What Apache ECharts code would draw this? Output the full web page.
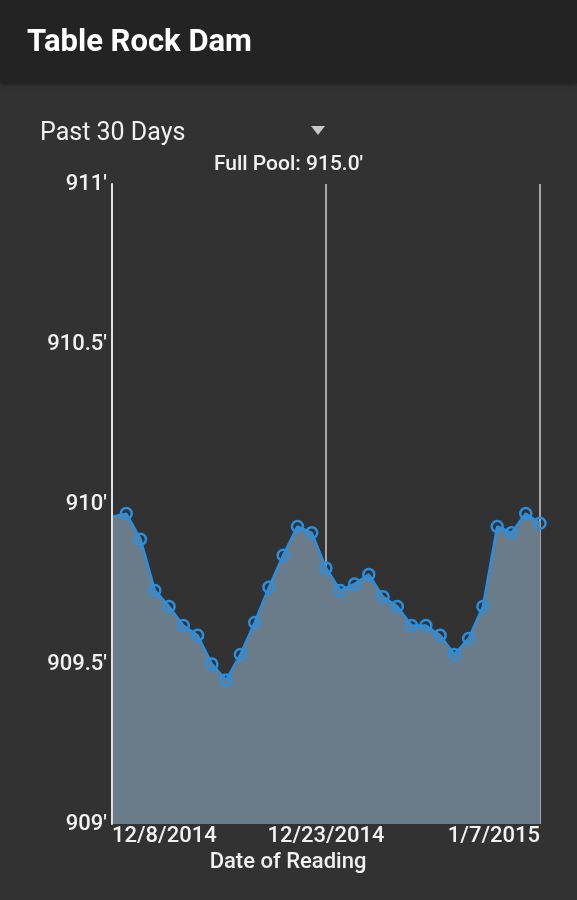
<!DOCTYPE html>
<html>
<head>
<meta charset="utf-8">
<script src="https://cdn.jsdelivr.net/npm/echarts@6/dist/echarts.min.js"></script>
<style>
  html, body { margin: 0; padding: 0; background: #323232; }
  #chart { width: 577px; height: 900px; }
</style>
</head>
<body>
<div id="chart"></div>
<script>
// daily readings, 12/8/2014 .. 1/7/2015
const dates = [
  '12/8/2014', '12/9/2014', '12/10/2014', '12/11/2014', '12/12/2014', '12/13/2014',
  '12/14/2014', '12/15/2014', '12/16/2014', '12/17/2014', '12/18/2014', '12/19/2014',
  '12/20/2014', '12/21/2014', '12/22/2014', '12/23/2014', '12/24/2014', '12/25/2014',
  '12/26/2014', '12/27/2014', '12/28/2014', '12/29/2014', '12/30/2014', '12/31/2014',
  '1/1/2015', '1/2/2015', '1/3/2015', '1/4/2015', '1/5/2015', '1/6/2015', '1/7/2015'
]
const levels = [
  909.96, 909.97, 909.89, 909.73, 909.68, 909.62, 909.59, 909.50, 909.45, 909.53,
  909.63, 909.74, 909.84, 909.93, 909.91, 909.80, 909.73, 909.75, 909.78, 909.71,
  909.68, 909.62, 909.62, 909.59, 909.53, 909.58, 909.68, 909.93, 909.91, 909.97,
  909.94
]
const yMin = 909
const yMax = 911
const yStep = 0.5
const fullPool = "Full Pool: 915.0'"

const font = 'Roboto, "Noto Sans", sans-serif'

const chart = echarts.init(document.getElementById('chart'))
const option = {
  backgroundColor: '#323232',
  animation: false,
  textStyle: { fontFamily: font },
  graphic: [
    {
      type: 'rect',
      shape: { x: 0, y: 0, width: 577, height: 83 },
      style: { fill: '#232323', shadowBlur: 4, shadowColor: 'rgba(0,0,0,0.5)', shadowOffsetY: 1 },
      z: -1
    },
    {
      type: 'polygon',
      shape: { points: [[311, 126], [325, 126], [318, 135]] },
      style: { fill: '#c8c8c8' }
    }
  ],
  title: [
    {
      text: 'Table Rock Dam',
      left: 27, top: 28, padding: 0,
      textStyle: { color: '#ffffff', fontSize: 31, fontWeight: 'bold', fontFamily: font }
    },
    {
      text: 'Past 30 Days',
      left: 40, top: 121, padding: 0,
      textStyle: { color: '#f2f2f2', fontSize: 25, fontWeight: 'normal', fontFamily: font }
    },
    {
      text: fullPool,
      left: 'center', top: 154, padding: 0,
      textStyle: { color: '#f2f2f2', fontSize: 21, fontWeight: 500, fontFamily: font }
    }
  ],
  grid: { left: 112, right: 37, top: 184, bottom: 76, containLabel: false },
  xAxis: {
    type: 'category',
    data: dates,
    boundaryGap: false,
    z: 3,
    name: 'Date of Reading',
    nameLocation: 'middle',
    nameGap: 25,
    nameTextStyle: { color: '#f2f2f2', fontSize: 22, fontWeight: 500, padding: [0, 76, 0, 0] },
    axisLine: { show: false },
    axisTick: { show: false },
    axisLabel: {
      interval: 14,
      color: '#f2f2f2',
      fontSize: 22,
      fontWeight: 500,
      margin: 1,
      alignMinLabel: 'left',
      alignMaxLabel: 'right'
    },
    splitLine: {
      show: true,
      interval: (i) => i % 15 === 0,
      lineStyle: { color: 'rgba(205,205,205,0.75)', width: 2 }
    }
  },
  yAxis: {
    type: 'value',
    min: yMin,
    max: yMax,
    interval: yStep,
    z: 4,
    axisLine: { show: true, lineStyle: { color: '#e0e0e0', width: 2 } },
    axisTick: { show: false },
    splitLine: { show: false },
    axisLabel: {
      color: '#f2f2f2',
      fontSize: 22,
      fontWeight: 500,
      margin: 5,
      padding: [6, 0, 0, 0],
      formatter: (v) => v + "'"
    }
  },
  series: [
    {
      type: 'line',
      data: levels.map((v, i) => (i === 0 ? { value: v, symbol: 'none' } : v)),
      symbol: 'circle',
      symbolSize: 11,
      showAllSymbol: true,
      itemStyle: { color: 'rgba(0,0,0,0)', borderColor: '#2b8fe0', borderWidth: 2.5 },
      lineStyle: { color: '#2b8fe0', width: 2.5 },
      areaStyle: { color: '#6a7b89', opacity: 1, origin: 'start' }
    }
  ]
}
chart.setOption(option)
</script>
</body>
</html>
